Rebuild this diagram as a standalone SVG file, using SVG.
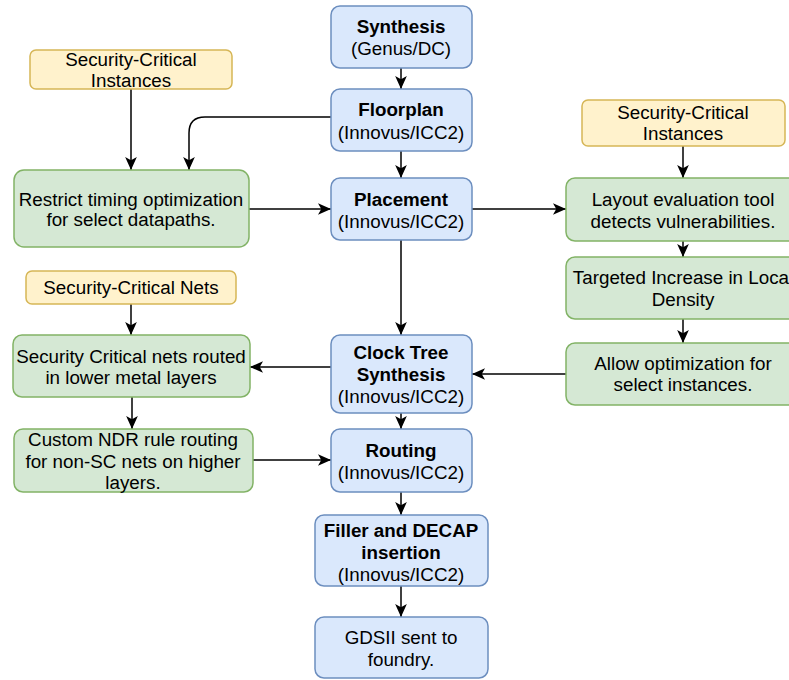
<svg xmlns="http://www.w3.org/2000/svg" width="789" height="680" viewBox="0 0 789 680">
<defs>
<marker id="arr" markerWidth="13" markerHeight="13" refX="10" refY="5" orient="auto" markerUnits="userSpaceOnUse" viewBox="0 0 10 10">
<path d="M0,0.5 L10,5 L0,9.5 L2.5,5 Z" fill="#000"/>
</marker>
<style>
.blue{fill:#dae8fc;stroke:#6c8ebf;stroke-width:1.5}
.green{fill:#d5e8d4;stroke:#82b366;stroke-width:1.5}
.yellow{fill:#fff2cc;stroke:#d6b656;stroke-width:1.5}
text{font-family:"Liberation Sans",Arial,sans-serif;font-size:18.8px;fill:#000;text-anchor:middle}
.b{font-weight:bold}
.c{fill:none;stroke:#000;stroke-width:1.5;marker-end:url(#arr)}
</style>
</defs>
<rect width="789" height="680" fill="#fff"/>
<g id="connectors">
<path class="c" d="M401,68 V89"/>
<path class="c" d="M401,151 V178"/>
<path class="c" d="M331,117 H205 Q189,117 189,133 V170"/>
<path class="c" d="M131,89 V170"/>
<path class="c" d="M249,209 H331"/>
<path class="c" d="M472,209 H566"/>
<path class="c" d="M683,146 V178"/>
<path class="c" d="M683,241 V257"/>
<path class="c" d="M683,319 V343"/>
<path class="c" d="M566,374 H472"/>
<path class="c" d="M401,240 V335"/>
<path class="c" d="M331,367 H250"/>
<path class="c" d="M131,304 V335"/>
<path class="c" d="M132,397 V429"/>
<path class="c" d="M253,460 H331"/>
<path class="c" d="M401,413 V429"/>
<path class="c" d="M401,492 V515"/>
<path class="c" d="M401,586 V617"/>
</g>
<g id="synthesis"><rect class="blue" x="331" y="6" width="141" height="62" rx="9"/><text class="b" x="401" y="33">Synthesis</text><text x="401" y="55">(Genus/DC)</text></g>
<g id="floorplan"><rect class="blue" x="331" y="89" width="141" height="62" rx="9"/><text class="b" x="401" y="116">Floorplan</text><text x="401" y="139">(Innovus/ICC2)</text></g>
<g id="placement"><rect class="blue" x="331" y="178" width="141" height="62" rx="9"/><text class="b" x="401" y="206">Placement</text><text x="401" y="228">(Innovus/ICC2)</text></g>
<g id="cts"><rect class="blue" x="331" y="335" width="141" height="78" rx="9"/><text class="b" x="401" y="359">Clock Tree</text><text class="b" x="401" y="381">Synthesis</text><text x="401" y="403">(Innovus/ICC2)</text></g>
<g id="routing"><rect class="blue" x="331" y="429" width="141" height="63" rx="9"/><text class="b" x="401" y="457">Routing</text><text x="401" y="479">(Innovus/ICC2)</text></g>
<g id="filler"><rect class="blue" x="315" y="515" width="173" height="71" rx="9"/><text class="b" x="401" y="537">Filler and DECAP</text><text class="b" x="401" y="559">insertion</text><text x="401" y="581">(Innovus/ICC2)</text></g>
<g id="gdsii"><rect class="blue" x="315" y="617" width="173" height="61" rx="9"/><text x="401" y="644">GDSII sent to</text><text x="401" y="666">foundry.</text></g>
<g id="sci-left"><rect class="yellow" x="30" y="50" width="202" height="39" rx="6"/><text x="131" y="66">Security-Critical</text><text x="131" y="87">Instances</text></g>
<g id="restrict"><rect class="green" x="14" y="170" width="235" height="77" rx="10"/><text x="131" y="206">Restrict timing optimization</text><text x="131" y="226">for select datapaths.</text></g>
<g id="sci-right"><rect class="yellow" x="582" y="100" width="203" height="46" rx="6"/><text x="683" y="119">Security-Critical</text><text x="683" y="140">Instances</text></g>
<g id="layout"><rect class="green" x="566" y="178" width="234" height="63" rx="9"/><text x="683" y="206">Layout evaluation tool</text><text x="683" y="228">detects vulnerabilities.</text></g>
<g id="targeted"><rect class="green" x="566" y="257" width="234" height="62" rx="9"/><text x="683" y="284">Targeted Increase in Local</text><text x="683" y="306">Density</text></g>
<g id="allow"><rect class="green" x="566" y="343" width="234" height="62" rx="9"/><text x="683" y="370">Allow optimization for</text><text x="683" y="391">select instances.</text></g>
<g id="scn"><rect class="yellow" x="26" y="271" width="210" height="33" rx="6"/><text x="131" y="294">Security-Critical Nets</text></g>
<g id="scrouted"><rect class="green" x="13" y="335" width="237" height="62" rx="9"/><text x="131" y="363">Security Critical nets routed</text><text x="131" y="384">in lower metal layers</text></g>
<g id="ndr"><rect class="green" x="14" y="429" width="239" height="63" rx="9"/><text x="133" y="446">Custom NDR rule routing</text><text x="133" y="468">for non-SC nets on higher</text><text x="133" y="489">layers.</text></g>
</svg>
